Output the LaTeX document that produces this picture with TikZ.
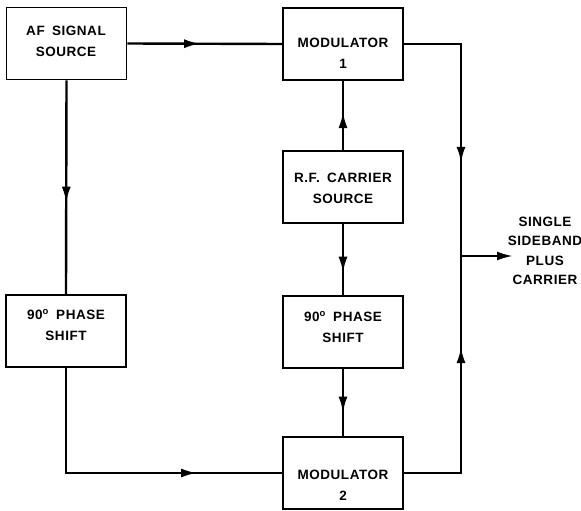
\documentclass[tikz,border=0pt]{standalone}
\usepackage{fontspec}
\setmainfont{Liberation Sans}[LetterSpace=4,WordSpace=1.7]
\usetikzlibrary{arrows.meta,decorations.markings}
\begin{document}
\begin{tikzpicture}[x=1pt,y=-1pt,
  box/.style={draw, line width=1.6pt, minimum width=120pt, minimum height=72pt, inner sep=0pt},
  lbl/.style={font=\fontsize{13.5}{21}\selectfont\bfseries, align=center, inner sep=0pt},
  wire/.style={line width=2.4pt},
  arrowat/.style={postaction=decorate, decoration={markings, mark=at position #1 with {\arrow{Latex[length=16pt,width=9pt]}}}}
]
\useasboundingbox (0,0) rectangle (581,511);
% boxes
\node[box] (af)   at (66.5,43.5) {};
\node[box] (mod1) at (343,44)  {};
\node[box] (car)  at (343,187) {};
\node[box] (psr)  at (343,332) {};
\node[box] (psl)  at (66,331)  {};
\node[box] (mod2) at (343,473) {};
% labels
\node[lbl] (afT)   at (66,41)   {AF SIGNAL\\SOURCE};
\node[lbl] (mod1T) at (343,53)  {MODULATOR\\1};
\node[lbl] (carT)  at (343,188) {R.F. CARRIER\\SOURCE};
\node[lbl] (psrT)  at (343,327) {90\textsuperscript{o} PHASE\\SHIFT};
\node[lbl] (pslT)  at (66,325)  {90\textsuperscript{o} PHASE\\SHIFT};
\node[lbl] (mod2T) at (343,485) {MODULATOR\\2};
\node[lbl,font=\fontsize{13.5}{19.5}\selectfont\bfseries] (outT) at (545,251) {SINGLE\\SIDEBAND\\PLUS\\CARRIER};
% junction and output
\coordinate (j) at (461,256);
\coordinate (out) at (513,256);
% connectors
\draw[wire,arrowat=0.47] (af.east) -- (mod1.west);
\draw[wire,arrowat=0.572] (af.south) -- (psl.north);
\draw[wire,arrowat=0.55] (car.north) -- (mod1.south);
\draw[wire,arrowat=0.685] (car.south) -- (psr.north);
\draw[wire,arrowat=0.65] (psr.south) -- (mod2.north);
\draw[wire,arrowat=0.735] (psl.south) |- (mod2.west);
\draw[wire,arrowat=0.654] (mod1.east) -| (j);
\draw[wire,arrowat=0.668] (mod2.east) -| (j);
\draw[wire,-{Latex[length=16pt,width=9pt]}] (j) -- (out);
\end{tikzpicture}
\end{document}
